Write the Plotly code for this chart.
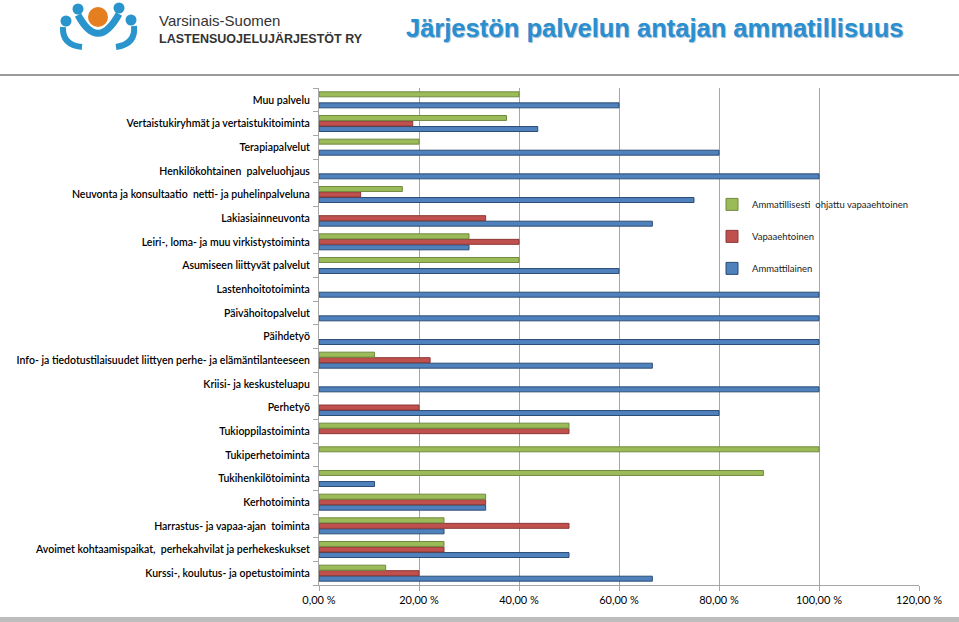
import plotly.graph_objects as go

# ---------------- data (top-to-bottom as shown) ----------------
categories = [
    "Muu palvelu",
    "Vertaistukiryhmät ja vertaistukitoiminta",
    "Terapiapalvelut",
    "Henkilökohtainen  palveluohjaus",
    "Neuvonta ja konsultaatio  netti- ja puhelinpalveluna",
    "Lakiasiainneuvonta",
    "Leiri-, loma- ja muu virkistystoiminta",
    "Asumiseen liittyvät palvelut",
    "Lastenhoitotoiminta",
    "Päivähoitopalvelut",
    "Päihdetyö",
    "Info- ja tiedotustilaisuudet liittyen perhe- ja elämäntilanteeseen",
    "Kriisi- ja keskusteluapu",
    "Perhetyö",
    "Tukioppilastoiminta",
    "Tukiperhetoiminta",
    "Tukihenkilötoiminta",
    "Kerhotoiminta",
    "Harrastus- ja vapaa-ajan  toiminta",
    "Avoimet kohtaamispaikat,  perhekahvilat ja perhekeskukset",
    "Kurssi-, koulutus- ja opetustoiminta",
]
ammattilainen = [60, 43.75, 80, 100, 75, 66.67, 30, 60, 100, 100, 100,
                 66.67, 100, 80, None, None, 11.11, 33.33, 25, 50, 66.67]
vapaaehtoinen = [None, 18.75, None, None, 8.33, 33.33, 40, None, None, None, None,
                 22.22, None, 20, 50, None, None, 33.33, 50, 25, 20]
ohjattu = [40, 37.5, 20, None, 16.67, None, 30, 40, None, None, None,
           11.11, None, None, 50, 100, 88.89, 33.33, 25, 25, 13.33]

series_names = ["Ammattilainen", "Vapaaehtoinen", "Ammatillisesti  ohjattu vapaaehtoinen"]
x_tick_values = [0, 20, 40, 60, 80, 100, 120]
x_tick_labels = ["0,00 %", "20,00 %", "40,00 %", "60,00 %", "80,00 %", "100,00 %", "120,00 %"]

title_text = "Järjestön palvelun antajan ammatillisuus"
org_line1 = "Varsinais-Suomen"
org_line2 = "LASTENSUOJELUJÄRJESTÖT RY"

# ---------------- figure ----------------
W, H = 959, 622
ML, MR, MT, MB = 319, 40, 88, 37

cats = categories[::-1]
fills = ["#4F81BD", "#C0504D", "#9BBB59"]
edges = ["#2C4D75", "#8C3836", "#71893F"]
ranks = [3, 2, 1]
values = [ammattilainen, vapaaehtoinen, ohjattu]

fig = go.Figure()
for i, (name, vals) in enumerate(zip(series_names, values)):
    fig.add_trace(go.Bar(
        y=cats, x=vals[::-1], name=name, orientation="h",
        marker=dict(color=fills[i], line=dict(color=edges[i], width=1)),
        legendgroup="g%d" % i, legendrank=ranks[i],
    ))

fig.update_layout(
    width=W, height=H,
    margin=dict(l=ML, r=MR, t=MT, b=MB, pad=0),
    paper_bgcolor="white", plot_bgcolor="white",
    barmode="group", bargap=0.3, bargroupgap=0.1,
    font=dict(family="Lato, Open Sans, Liberation Sans", color="#000000"),
    legend=dict(
        x=0.655, y=0.795, xanchor="left", yanchor="top",
        traceorder="grouped", tracegroupgap=13,
        bgcolor="rgba(0,0,0,0)", borderwidth=0,
        font=dict(size=9.5, color="#222222", family="Lato, Open Sans"),
        itemwidth=30,
    ),
    xaxis=dict(
        range=[0, 120], tickvals=x_tick_values, ticktext=x_tick_labels,
        showgrid=True, gridcolor="#A6A6A6", gridwidth=1,
        showline=True, linecolor="#A6A6A6", linewidth=1,
        ticks="outside", ticklen=5, tickcolor="#A6A6A6",
        tickfont=dict(size=11, color="#000000"),
        zeroline=False, fixedrange=True, automargin=False,
    ),
    yaxis=dict(
        type="category", categoryorder="array", categoryarray=cats,
        showline=True, linecolor="#A6A6A6", linewidth=1,
        ticks="outside", ticklen=5, tickcolor="#A6A6A6", tickson="boundaries",
        tickfont=dict(size=10.5, color="#000000", weight=600),
        ticklabelstandoff=6, automargin=False,
        showgrid=False, fixedrange=True,
    ),
)

def px(x):
    return (x - ML) / (W - ML - MR)

def py(y):
    return (H - MB - y) / (H - MT - MB)

shapes = []
# header separator and bottom band
shapes.append(dict(type="line", xref="paper", yref="paper", x0=px(0), x1=px(W),
                   y0=py(75), y1=py(75), line=dict(color="#9A9A9A", width=2)))
shapes.append(dict(type="rect", xref="paper", yref="paper", x0=px(0), x1=px(W),
                   y0=py(617), y1=py(622), line=dict(width=0), fillcolor="#BDBDBD"))

# logo (decoration)
blue = "#2A94CC"
orange = "#E57E1E"
def circ(cx, cy, r, col):
    return dict(type="circle", xref="paper", yref="paper",
                x0=px(cx - r), x1=px(cx + r), y0=py(cy + r), y1=py(cy - r),
                fillcolor=col, line=dict(width=0), layer="above")
shapes.append(circ(98, 17, 10, orange))
shapes.append(circ(78, 9, 5.5, blue))
shapes.append(circ(119, 8, 5.5, blue))
shapes.append(circ(66, 21, 5.5, blue))
shapes.append(circ(131, 20, 5.5, blue))

def path_pts(pts):
    d = "M %f,%f " % (px(pts[0][0]), py(pts[0][1]))
    d += "Q %f,%f %f,%f" % (px(pts[1][0]), py(pts[1][1]), px(pts[2][0]), py(pts[2][1]))
    return d
shapes.append(dict(type="path", xref="paper", yref="paper",
                   path=path_pts([(78, 15), (98, 52), (119, 14)]),
                   line=dict(color=blue, width=7), layer="above"))
shapes.append(dict(type="path", xref="paper", yref="paper",
                   path=path_pts([(63, 27), (62, 45), (82, 47)]),
                   line=dict(color=blue, width=6), layer="above"))
shapes.append(dict(type="path", xref="paper", yref="paper",
                   path=path_pts([(134, 26), (136, 44), (116, 47)]),
                   line=dict(color=blue, width=6), layer="above"))
fig.update_layout(shapes=shapes)

annotations = [
    dict(text=org_line1, xref="paper", yref="paper", x=px(157), y=py(21),
         xanchor="left", yanchor="middle", showarrow=False,
         font=dict(family="Liberation Sans", size=15, color="#333333")),
    dict(text="<b>" + org_line2 + "</b>", xref="paper", yref="paper", x=px(157), y=py(38),
         xanchor="left", yanchor="middle", showarrow=False,
         font=dict(family="Liberation Sans", size=12.5, color="#333333")),
    dict(text="<b>" + title_text + "</b>", xref="paper", yref="paper", x=px(404), y=py(28),
         xanchor="left", yanchor="middle", showarrow=False,
         font=dict(family="Liberation Sans, Arial", size=25.5, color="#2A8FD0",
                   shadow="1px 1px 1px #9AB8D0")),
]
fig.update_layout(annotations=annotations)

fig.write_html("out.html", config={"displayModeBar": False},
               post_script="document.body.style.margin='0';document.body.style.padding='0';")
